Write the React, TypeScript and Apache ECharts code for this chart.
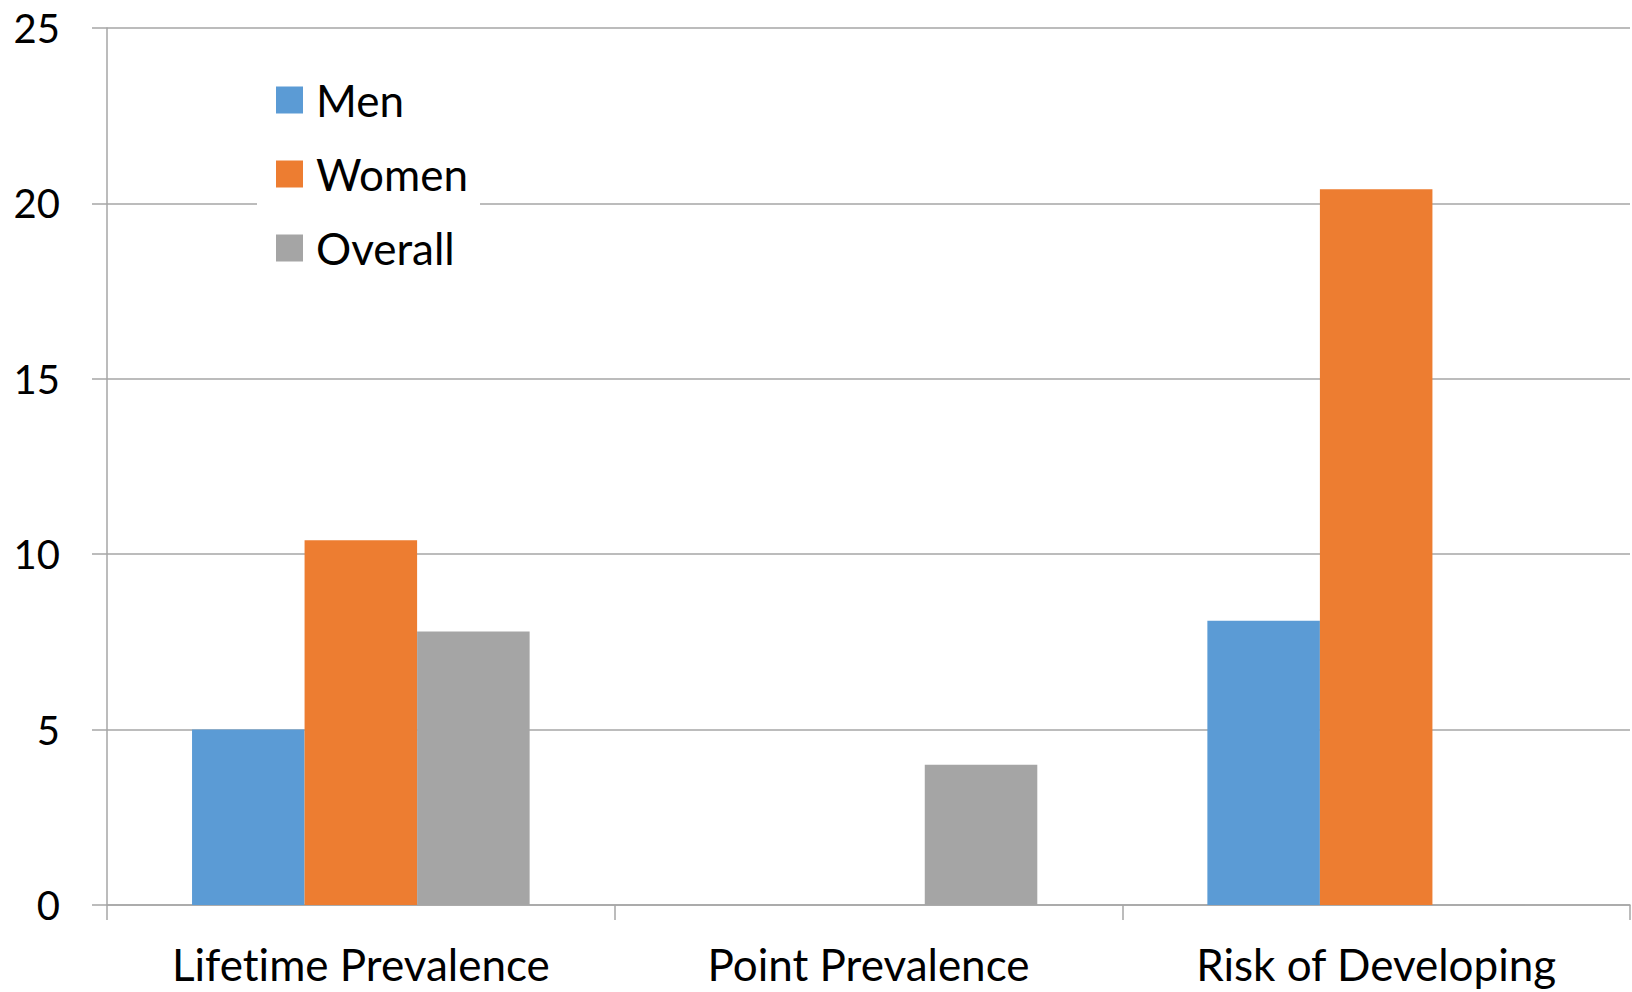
import React, { useEffect, useRef } from "react";
import * as echarts from "echarts";

const categories = ["Lifetime Prevalence", "Point Prevalence", "Risk of Developing"];
const menValues: (number | null)[] = [5.0, null, 8.1];
const womenValues: (number | null)[] = [10.4, null, 20.4];
const overallValues: (number | null)[] = [7.8, 4.0, null];
const yTicks = [0, 5, 10, 15, 20, 25];

const FONT = "Lato";
const AXIS_GRAY = "#a6a6a6";

export default function App() {
  const ref = useRef<HTMLDivElement>(null);

  useEffect(() => {
    if (!ref.current) return;
    const chart = echarts.init(ref.current, null, { renderer: "svg" });
    chart.setOption({
      animation: false,
      backgroundColor: "#ffffff",
      textStyle: { fontFamily: FONT },
      grid: { left: 107, right: 2, top: 28, bottom: 87, containLabel: false },
      legend: {
        orient: "vertical",
        left: 257,
        top: 68,
        padding: [10, 12, 10, 19],
        backgroundColor: "#ffffff",
        itemWidth: 27,
        itemHeight: 27,
        itemGap: 30,
        icon: "rect",
        textStyle: {
          fontFamily: FONT,
          fontSize: 44,
          lineHeight: 44,
          color: "#000000",
          padding: [0, 0, 0, 8],
        },
        data: ["Men", "Women", "Overall"],
      },
      xAxis: {
        type: "category",
        data: categories,
        axisLine: { show: true, lineStyle: { color: AXIS_GRAY, width: 1.5 } },
        axisTick: { show: true, length: 15, lineStyle: { color: AXIS_GRAY, width: 1.5 } },
        axisLabel: { fontFamily: FONT, fontSize: 44, color: "#000000", margin: 37 },
        splitLine: { show: false },
      },
      yAxis: {
        type: "value",
        min: yTicks[0],
        max: yTicks[yTicks.length - 1],
        interval: 5,
        axisLine: { show: true, lineStyle: { color: AXIS_GRAY, width: 1.5 } },
        axisTick: { show: true, length: 15, lineStyle: { color: AXIS_GRAY, width: 1.5 } },
        axisLabel: { fontFamily: FONT, fontSize: 40, color: "#000000", margin: 47 },
        splitLine: { show: true, lineStyle: { color: AXIS_GRAY, width: 1.5 } },
      },
      series: [
        {
          name: "Men",
          type: "bar",
          data: menValues,
          itemStyle: { color: "#5b9bd5" },
          barGap: "0%",
          barCategoryGap: "33.5%",
        },
        {
          name: "Women",
          type: "bar",
          data: womenValues,
          itemStyle: { color: "#ed7d31" },
          barGap: "0%",
          barCategoryGap: "33.5%",
        },
        {
          name: "Overall",
          type: "bar",
          data: overallValues,
          itemStyle: { color: "#a5a5a5" },
          barGap: "0%",
          barCategoryGap: "33.5%",
        },
      ],
    });
    return () => chart.dispose();
  }, []);

  return (
    <>
      <style>{"svg text { font-variant-ligatures: none !important; }"}</style>
      <div
        ref={ref}
        style={{ position: "fixed", left: 0, top: 0, width: 1632, height: 992 }}
      />
    </>
  );
}
